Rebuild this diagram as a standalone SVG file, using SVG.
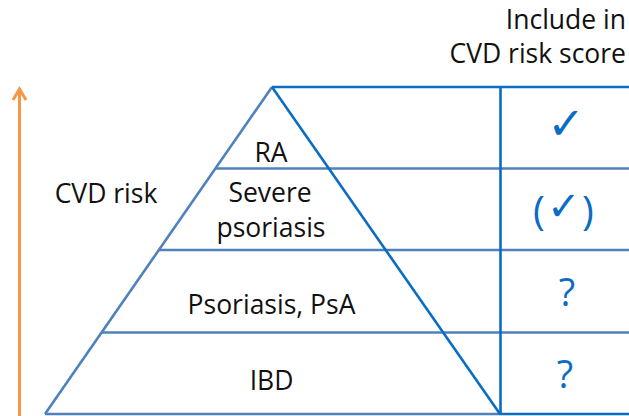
<svg xmlns="http://www.w3.org/2000/svg" width="629" height="416" viewBox="0 0 629 416">
<style>
.lt{stroke:#4f81bd;stroke-width:2.6;fill:none}
.dk{stroke:#0a6cc4;stroke-width:2.6;fill:none}
.t{font-family:"Open Sans","Noto Sans",sans-serif;font-size:26.5px;fill:#111;text-anchor:middle}
.b{font-family:"Open Sans","Noto Sans",sans-serif;font-size:38px;fill:#0a6cc4;text-anchor:middle}
.ck{font-family:"DejaVu Sans",sans-serif;font-size:45px;fill:#0a6cc4;text-anchor:middle}
</style>
<rect width="629" height="416" fill="#fff"/>
<g id="connectors">
<g id="risk-arrow">
<line x1="19.5" y1="416" x2="19.5" y2="91" stroke="#f79646" stroke-width="3"/>
<polyline points="13,100 19.5,89 26,100" fill="none" stroke="#f79646" stroke-width="3" stroke-linejoin="miter"/>
</g>
<line class="lt" x1="272" y1="87" x2="45" y2="414"/>
<line class="lt" x1="45" y1="414" x2="500" y2="414"/>
<line class="lt" x1="215.5" y1="168.5" x2="629" y2="168.5"/>
<line class="lt" x1="159" y1="250" x2="629" y2="250"/>
<line class="lt" x1="101.6" y1="332.5" x2="629" y2="332.5"/>
<line class="dk" x1="272" y1="87" x2="629" y2="87"/>
<line class="dk" x1="272" y1="87" x2="500" y2="414"/>
<line class="dk" x1="500.5" y1="87" x2="500.5" y2="414"/>
<line class="dk" x1="500" y1="414" x2="629" y2="414"/>
</g>
<g id="header">
<text class="t" style="text-anchor:end" x="626" y="29">Include in</text>
<text class="t" style="text-anchor:end" x="626" y="63">CVD risk score</text>
</g>
<g id="axis-label"><text class="t" x="106" y="203">CVD risk</text></g>
<g id="level-ra">
<text class="t" x="271" y="162">RA</text>
<text class="ck" x="566" y="139">✓</text>
</g>
<g id="level-severe-psoriasis">
<text class="b" style="font-size:40px;text-anchor:start"><tspan x="533" y="225">(</tspan><tspan style="font-family:'DejaVu Sans',sans-serif;font-size:40px" x="547" y="220">✓</tspan><tspan x="582" y="225">)</tspan></text>
<text class="t" x="270" y="202">Severe</text>
<text class="t" x="271" y="237">psoriasis</text>
</g>
<g id="level-psoriasis-psa">
<text class="t" x="271.5" y="314">Psoriasis, PsA</text>
<text class="b" x="567" y="306">?</text>
</g>
<g id="level-ibd">
<text class="t" x="271.5" y="390">IBD</text>
<text class="b" x="565" y="388">?</text>
</g>
</svg>
